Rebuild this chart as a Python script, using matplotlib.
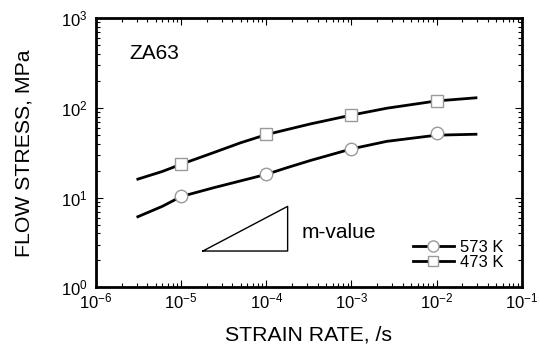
import numpy as np
import matplotlib
matplotlib.use("Agg")
import matplotlib.pyplot as plt
from matplotlib.lines import Line2D
from matplotlib.ticker import LogLocator, FuncFormatter, NullFormatter

plt.rcParams['font.family'] = ['Liberation Sans', 'DejaVu Sans']
plt.rcParams['mathtext.fontset'] = 'custom'
plt.rcParams['mathtext.rm'] = 'Liberation Sans'
plt.rcParams['mathtext.it'] = 'Liberation Sans'

# measured points
rate_pts = [1e-5, 1e-4, 1e-3, 1e-2]
stress_573 = [10.4, 18.2, 34.9, 52.2]
stress_473 = [23.7, 50.8, 84.1, 119.6]

# fitted curves
rate_fit = [3.1e-6, 6e-6, 1e-5, 2.4e-5, 5e-5, 1e-4, 1.75e-4, 3.3e-4, 1e-3, 2.6e-3, 1e-2, 2.9e-2]
fit_573 = [6.13, 8.0, 10.3, 12.9, 15.4, 18.2, 21.6, 26.0, 35.0, 42.5, 49.8, 51.0]
fit_473 = [16.1, 19.6, 23.6, 31.8, 41.0, 50.5, 57.5, 66.5, 83.4, 99.5, 120.0, 130.0]

# m-value triangle corners
tri_x = [1.8e-5, 1.78e-4, 1.78e-4, 1.8e-5]
tri_y = [2.54, 2.54, 8.0, 2.54]

fig = plt.figure(figsize=(5.4, 3.47), dpi=100)
ax = fig.add_axes([0.1778, 0.172, 0.7884, 0.775])

mk_edge = '#9a9a9a'
ax.plot(rate_fit, fit_573, color='black', lw=2, zorder=2, solid_joinstyle='round')
ax.plot(rate_fit, fit_473, color='black', lw=2, zorder=2, solid_joinstyle='round')
ax.plot(rate_pts, stress_573, ls='none', marker='o', ms=9, mfc='white',
        mec=mk_edge, mew=1.0, zorder=3)
ax.plot(rate_pts, stress_473, ls='none', marker='s', ms=8.5, mfc='white',
        mec=mk_edge, mew=1.0, zorder=3)

ax.plot(tri_x, tri_y, color='black', lw=1.0)

ax.set_xscale('log')
ax.set_yscale('log')
ax.set_xlim(1e-6, 1e-1)
ax.set_ylim(1e0, 1e3)

fmt = FuncFormatter(lambda v, p: r'$\mathregular{10^{%d}}$' % round(np.log10(v)))
ax.xaxis.set_major_locator(LogLocator(base=10, numticks=10))
ax.yaxis.set_major_locator(LogLocator(base=10, numticks=10))
ax.xaxis.set_minor_locator(LogLocator(base=10, subs=np.arange(2, 10), numticks=20))
ax.yaxis.set_minor_locator(LogLocator(base=10, subs=np.arange(2, 10), numticks=20))
ax.xaxis.set_major_formatter(fmt)
ax.yaxis.set_major_formatter(fmt)
ax.xaxis.set_minor_formatter(NullFormatter())
ax.yaxis.set_minor_formatter(NullFormatter())

ax.tick_params(which='both', direction='in', top=True, right=True, width=0.8)
ax.tick_params(which='major', length=5)
ax.tick_params(which='minor', length=3)
ax.tick_params(axis='x', which='major', pad=3, labelsize=12)
ax.tick_params(axis='y', which='major', pad=6, labelsize=12)
for s in ax.spines.values():
    s.set_linewidth(2)

ax.set_xlabel('STRAIN RATE, /s', fontsize=15.3, va='center')
ax.xaxis.set_label_coords(0.5, -0.177)
ax.set_ylabel('FLOW STRESS, MPa', fontsize=15.3, va='center')
ax.yaxis.set_label_coords(-0.169, 0.5)

ax.text(0.0775, 0.871, 'ZA63', transform=ax.transAxes, fontsize=15,
        ha='left', va='center')
ax.text(0.483, 0.183, 'm-value', transform=ax.transAxes, fontsize=15,
        ha='left', va='baseline')

handles = [
    Line2D([], [], color='black', lw=2, marker='o', ms=8, mfc='white', mec=mk_edge, mew=1.0),
    Line2D([], [], color='black', lw=2, marker='s', ms=7.5, mfc='white', mec=mk_edge, mew=1.0),
]
ax.legend(handles, ['573 K', '473 K'], loc='upper left', bbox_to_anchor=(0.7446, 0.176),
          frameon=False, fontsize=12, handlelength=2.45, handletextpad=0.35,
          labelspacing=0.0, borderpad=0, borderaxespad=0, numpoints=1)

fig.savefig('out.png', dpi=100)
